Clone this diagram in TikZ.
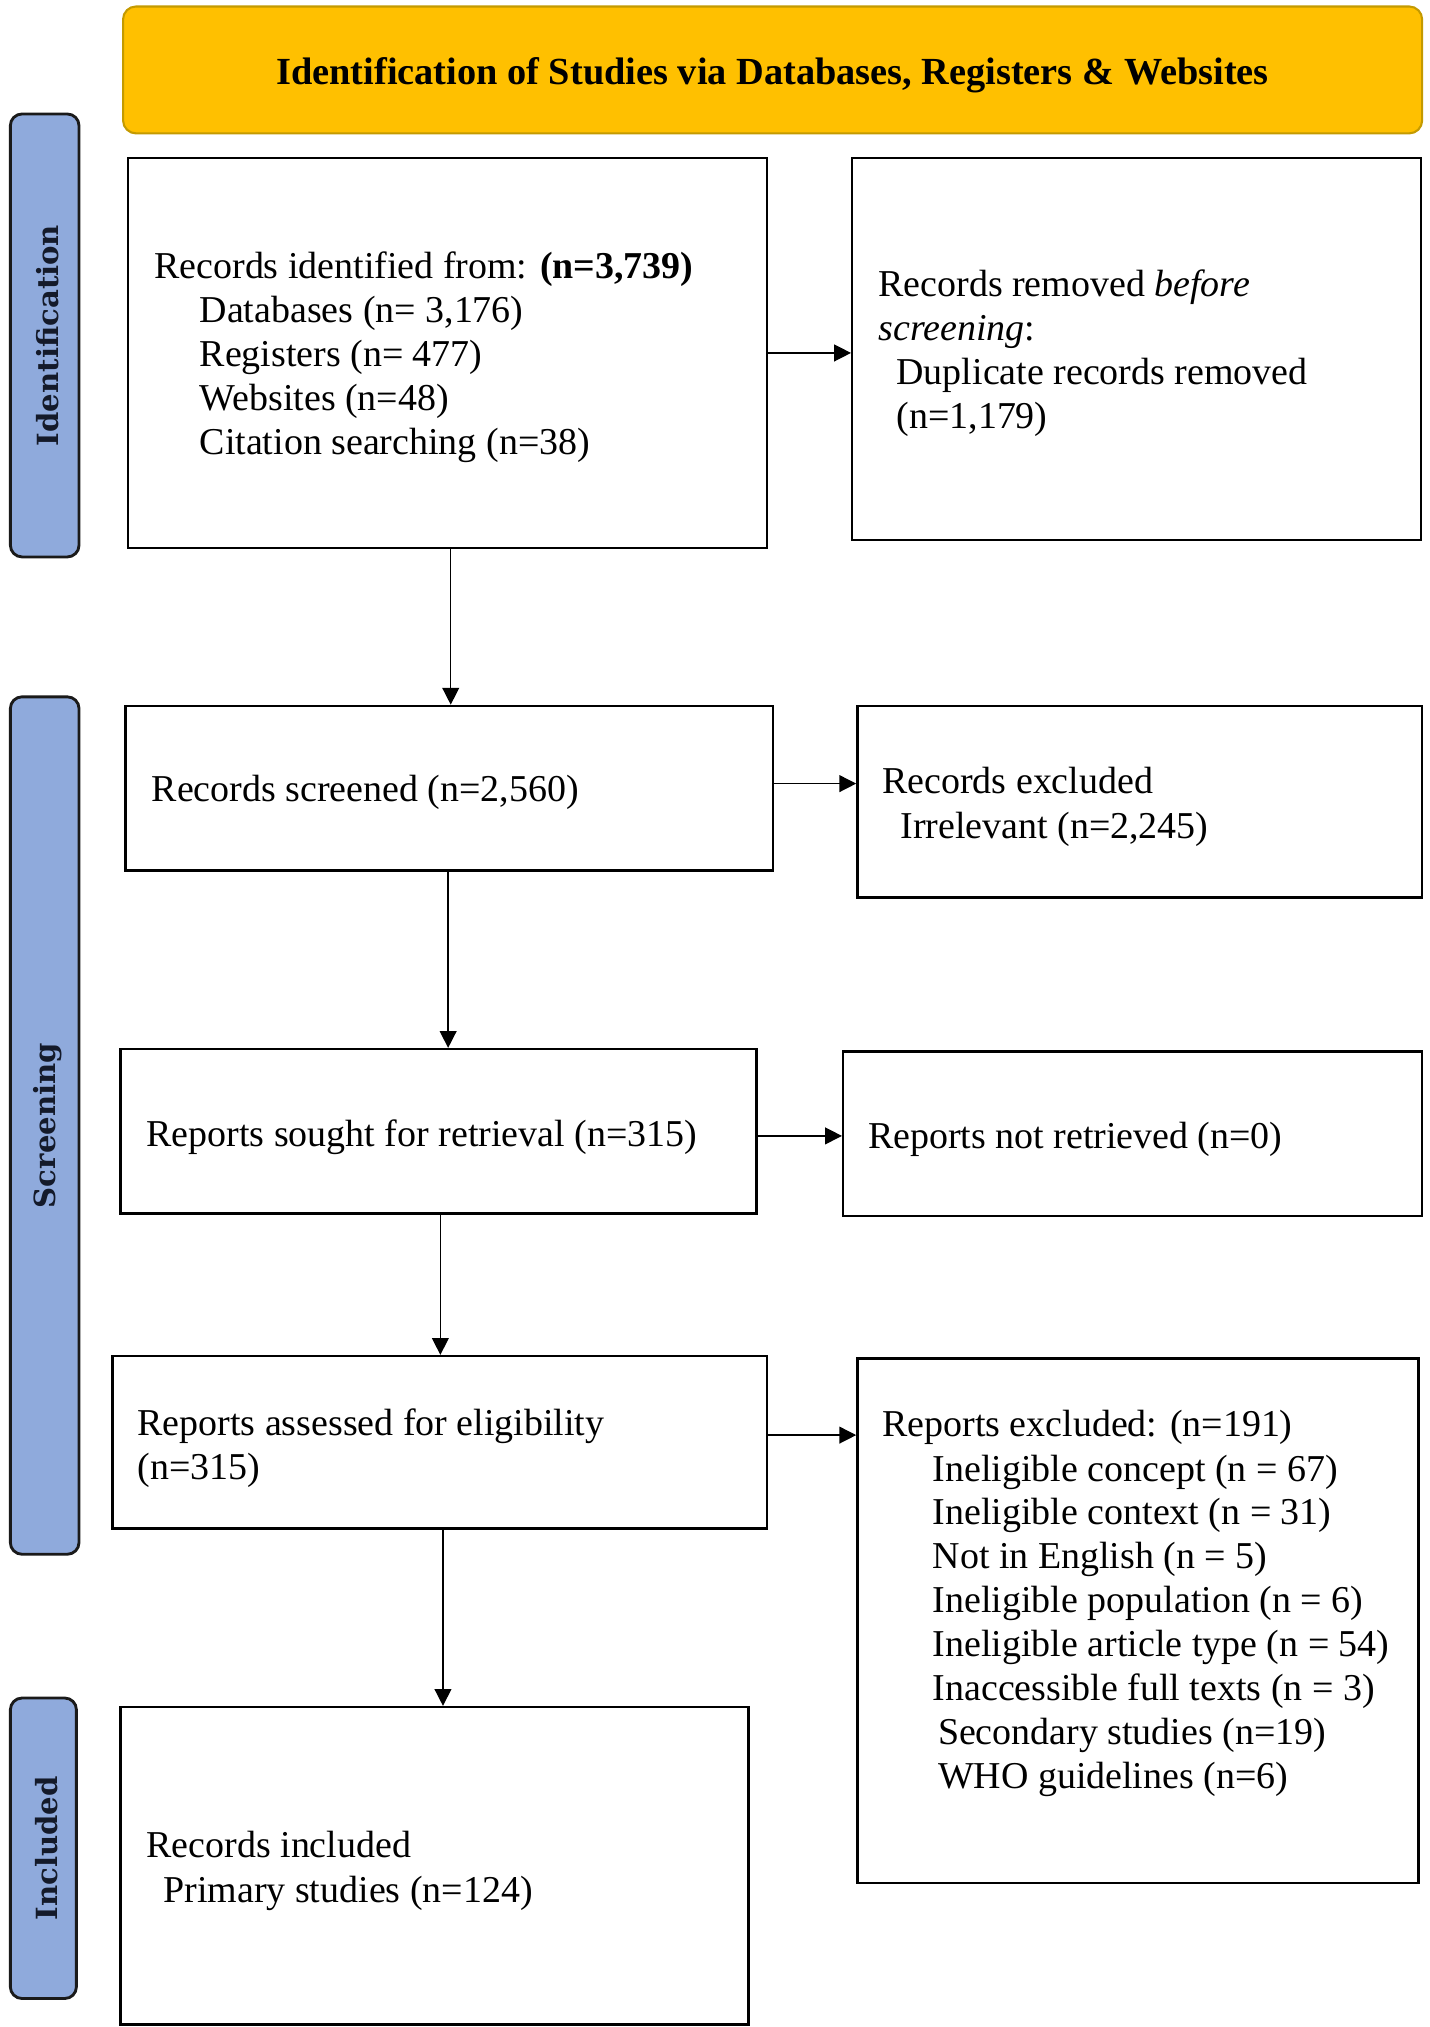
\documentclass[tikz,border=0pt]{standalone}
\usepackage{fontspec}
\setmainfont{Liberation Serif}
\newfontfamily\sidefont{DejaVu Serif}
\usetikzlibrary{arrows.meta}
\definecolor{hdrfill}{HTML}{FFC000}
\definecolor{hdrdraw}{HTML}{C49A00}
\definecolor{sidefill}{HTML}{8FAADC}
\definecolor{sidedraw}{HTML}{1A1A1A}
\definecolor{sidetext}{HTML}{141A2A}
\begin{document}
\begin{tikzpicture}[x=1pt,y=-1pt,
  box/.style={draw=black, line width=1.9pt, rectangle, inner sep=0pt},
  hdr/.style={draw=hdrdraw, fill=hdrfill, line width=1.6pt, rounded corners=10pt, inner sep=0pt},
  hdrtxt/.style={inner sep=0pt, font=\fontsize{29.6}{34}\selectfont\bfseries},
  side/.style={draw=sidedraw, fill=sidefill, line width=2.2pt, rounded corners=9pt, inner sep=0pt},
  sidelbl/.style={rotate=90, inner sep=0pt, text=sidetext, font=\sidefont\fontsize{22.5}{26}\selectfont\bfseries},
  lbl/.style={anchor=base west, inner sep=0pt, font=\fontsize{29.3}{34}\selectfont},
  arr/.style={line width=1.1pt, -{Triangle[length=13pt,width=13pt]}}
]
\useasboundingbox (0,0) rectangle (1104,1565);
\fill[white] (0,0) rectangle (1104,1565);

% header
\node[hdr, minimum width=1003pt, minimum height=98pt] (hdr) at (596.5,54) {};
\node[hdrtxt] (hdrt) at (596.5,58) {Identification of Studies via Databases, Registers \& Websites};

% side bars
\node[side, minimum width=53pt, minimum height=342pt] (s1) at (34.5,259) {};
\node[sidelbl] (s1t) at (37,259) {Identification};
\node[side, minimum width=53pt, minimum height=662pt] (s2) at (34.5,869) {};
\node[sidelbl] (s2t) at (37,869) {Screening};
\node[side, minimum width=51pt, minimum height=232pt] (s3) at (33.5,1427) {};
\node[sidelbl] (s3t) at (36,1427) {Included};

% boxes
\node[box, minimum width=493pt, minimum height=301pt] (b1) at (345.5,272.5) {};
\node[box, minimum width=439pt, minimum height=295pt] (b2) at (877.5,269.5) {};
\node[box, minimum width=500pt, minimum height=127pt] (b3) at (347,608.5) {};
\node[box, minimum width=436pt, minimum height=148pt] (b4) at (880,619) {};
\node[box, minimum width=491pt, minimum height=127pt] (b5) at (338.5,873.5) {};
\node[box, minimum width=447pt, minimum height=127pt] (b6) at (874.5,875.5) {};
\node[box, minimum width=505pt, minimum height=133pt] (b7) at (339.5,1113.5) {};
\node[box, minimum width=433pt, minimum height=405pt] (b8) at (878.5,1251.5) {};
\node[box, minimum width=485pt, minimum height=245pt] (b9) at (335.5,1440.5) {};

% texts
\node[lbl] (t1a) at (119,215) {Records identified from: \textbf{(n=3,739)}};
\node[lbl] (t1b) at (154,249) {Databases (n= 3,176)};
\node[lbl] (t1c) at (154,283) {Registers (n= 477)};
\node[lbl] (t1d) at (154,317) {Websites (n=48)};
\node[lbl] (t1e) at (154,351) {Citation searching (n=38)};

\node[lbl] (t2a) at (678,229) {Records removed \textit{before}};
\node[lbl] (t2b) at (678,263) {\textit{screening}:};
\node[lbl] (t2c) at (692,297) {Duplicate records removed};
\node[lbl] (t2d) at (692,331) {(n=1,179)};

\node[lbl] (t3) at (117,619) {Records screened (n=2,560)};

\node[lbl] (t4a) at (681,613) {Records excluded};
\node[lbl] (t4b) at (695,647) {Irrelevant (n=2,245)};

\node[lbl] (t5) at (113,885) {Reports sought for retrieval (n=315)};
\node[lbl] (t6) at (670,887) {Reports not retrieved (n=0)};

\node[lbl] (t7a) at (106,1108) {Reports assessed for eligibility};
\node[lbl] (t7b) at (106,1142) {(n=315)};

\node[lbl] (t8a) at (681,1109) {Reports excluded: (n=191)};
\node[lbl] (t8b) at (720,1144) {Ineligible concept (n = 67)};
\node[lbl] (t8c) at (720,1177) {Ineligible context (n = 31)};
\node[lbl] (t8d) at (720,1211) {Not in English (n = 5)};
\node[lbl] (t8e) at (720,1245) {Ineligible population (n = 6)};
\node[lbl] (t8f) at (720,1279) {Ineligible article type (n = 54)};
\node[lbl] (t8g) at (720,1313) {Inaccessible full texts (n = 3)};
\node[lbl] (t8h) at (724,1347) {Secondary studies (n=19)};
\node[lbl] (t8i) at (724,1381) {WHO guidelines (n=6)};

\node[lbl] (t9a) at (113,1434) {Records included};
\node[lbl] (t9b) at (126,1469) {Primary studies (n=124)};

% arrows
\draw[arr] ([xshift=2.5pt]b1.south) -- ([xshift=2.5pt]b1.south |- b3.north);
\draw[arr] (b1.east) -- (b1.east -| b2.west);
\draw[arr] ([yshift=3.5pt]b3.east) -- ([yshift=3.5pt]b3.east -| b4.west);
\draw[arr] ([xshift=-1pt]b3.south) -- ([xshift=-1pt]b3.south |- b5.north);
\draw[arr] ([yshift=-3.5pt]b5.east) -- ([yshift=-3.5pt]b5.east -| b6.west);
\draw[arr] ([xshift=1.5pt]b5.south) -- ([xshift=1.5pt]b5.south |- b7.north);
\draw[arr] ([yshift=5.5pt]b7.east) -- ([yshift=5.5pt]b7.east -| b8.west);
\draw[arr] ([xshift=2.5pt]b7.south) -- ([xshift=2.5pt]b7.south |- b9.north);
\end{tikzpicture}
\end{document}
